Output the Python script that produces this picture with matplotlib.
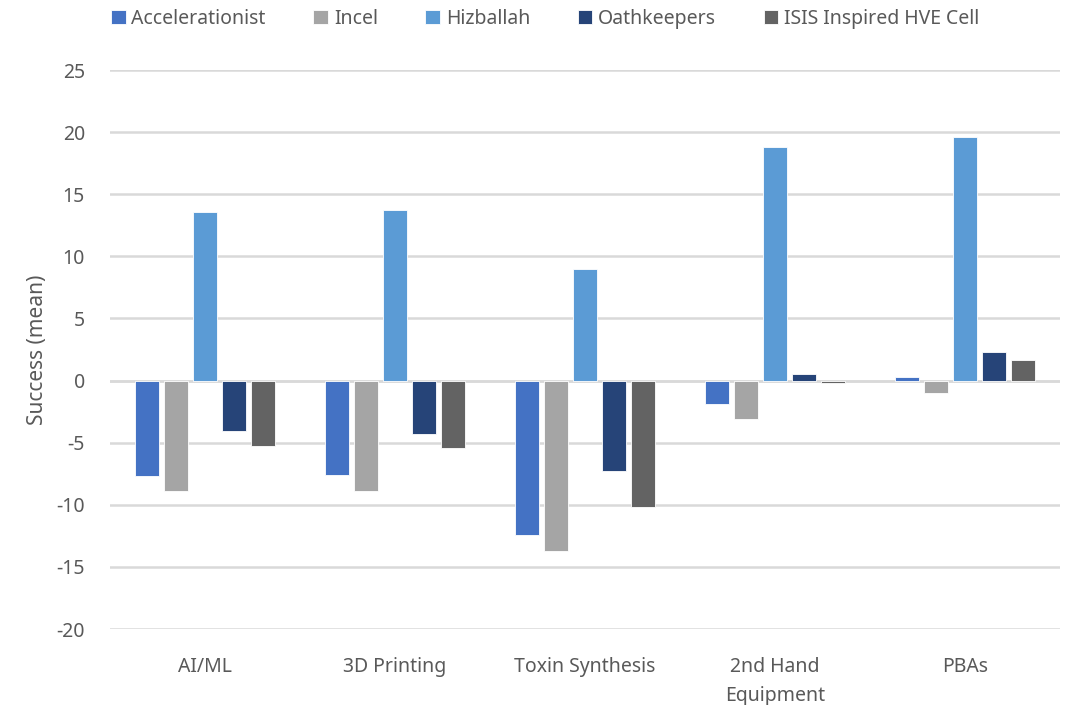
import numpy as np
import matplotlib
matplotlib.use("Agg")
import matplotlib.pyplot as plt

plt.rcParams['font.family'] = ['Noto Sans', 'DejaVu Sans']
plt.rcParams['axes.unicode_minus'] = False

categories = ["AI/ML", "3D Printing", "Toxin Synthesis", "2nd Hand\nEquipment", "PBAs"]
groups = ["Accelerationist", "Incel", "Hizballah", "Oathkeepers", "ISIS Inspired HVE Cell"]
accelerationist = [-7.7, -7.6, -12.4, -1.85, 0.25]
incel = [-8.9, -8.9, -13.7, -3.1, -1.0]
hizballah = [13.6, 13.7, 9.0, 18.8, 19.6]
oathkeepers = [-4.1, -4.3, -7.3, 0.55, 2.3]
isis = [-5.3, -5.4, -10.2, -0.2, 1.65]
colors = ["#4472C4", "#A5A5A5", "#5B9BD5", "#264478", "#636363"]

series = [accelerationist, incel, hizballah, oathkeepers, isis]

fig = plt.figure(figsize=(10.74, 7.05), dpi=100)
ax = fig.add_axes([0.1024, 0.1078, 0.8846, 0.7929])

x = np.arange(len(categories))
pitch = 0.153
width = 0.128
for i, (vals, name, col) in enumerate(zip(series, groups, colors)):
    ax.bar(x + (i - 2) * pitch, vals, width, color=col, label=name,
           edgecolor="white", linewidth=0.6, zorder=3)

ax.set_xlim(-0.5, len(categories) - 0.5)
ax.set_ylim(-20, 25)
ax.set_yticks(range(-20, 26, 5))
ax.set_xticks(x)
ax.set_xticklabels(categories, linespacing=1.6)
ax.yaxis.grid(True, color="#D9D9D9", linewidth=1.8, zorder=0)
ax.axhline(0, color="#D9D9D9", linewidth=1.8, zorder=2)
for s in ax.spines.values():
    s.set_visible(False)
ax.tick_params(axis="both", length=0, labelsize=14, colors="#595959")
ax.tick_params(axis="y", pad=18)
ax.tick_params(axis="x", pad=20)
ax.set_ylabel("Success (mean)", fontsize=15, color="#595959", labelpad=6)

fig.legend(loc="upper left", bbox_to_anchor=(0.087, 1.012), ncol=5, frameon=False,
           fontsize=14, labelcolor="#595959", handlelength=0.75, handleheight=0.75,
           handletextpad=0.3, columnspacing=2.45)

fig.savefig("out.png", dpi=100)
